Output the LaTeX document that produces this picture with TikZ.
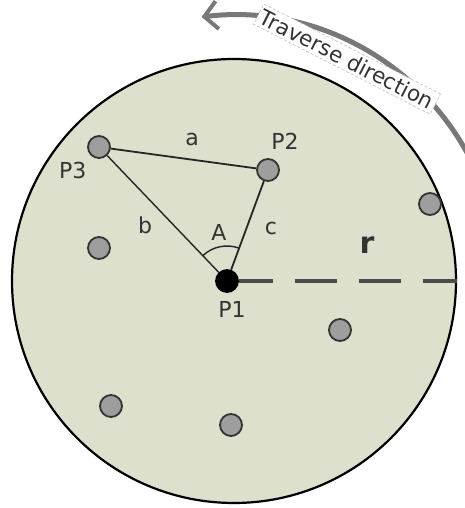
\documentclass[tikz,border=0pt]{standalone}
\usepackage{fontspec}
\setmainfont{DejaVu Sans}
\usetikzlibrary{positioning, arrows.meta, calc}

\definecolor{diskfill}{RGB}{221,224,204}
\definecolor{sitegray}{RGB}{158,158,158}
\definecolor{arrowgray}{RGB}{120,120,120}

\begin{document}
\begin{tikzpicture}[
  x=1pt, y=1pt,
  % Estilos del disco y de los puntos
  disk/.style={draw=black, line width=2.2pt, circle, fill=diskfill, minimum size=444pt, inner sep=0pt},
  site/.style={draw=black!80, line width=1.8pt, circle, fill=sitegray, minimum size=22pt, inner sep=0pt},
  centre/.style={site, draw=black, fill=black},
  % Estilos de textos
  lbl/.style={font=\fontsize{22}{22}\selectfont, text=black!80, inner sep=1pt},
  % Estilos de lineas
  side/.style={draw=black!85, line width=1.8pt},
  rline/.style={draw=black!70, line width=3.5pt, dash pattern=on 42pt off 22pt, dash phase=8pt},
  trav/.style={draw=arrowgray, line width=5pt, -{Straight Barb[length=13pt, width=28pt, line width=4pt]}},
  travlabel/.style={fill=white, draw=black!25, densely dashed, line width=0.6pt, font=\fontsize{21.5}{21.5}\selectfont, text=black!80, inner sep=3pt}
]
  \useasboundingbox (0,0) rectangle (465,508);

  % ==========================================
  % TRAVERSE DIRECTION
  % ==========================================
  \coordinate (o) at (234,227);
  \draw[trav] ($(o)+(25:266)$) arc[start angle=25, end angle=97, radius=266];
  \node[travlabel, rotate=-27] (travtxt) at ($(o)+(63:249)$) {Traverse direction};

  % ==========================================
  % DISK AND POINTS
  % ==========================================
  \node[disk] (disk) at (o) {};

  \node[centre] (p1) at (227,227) {};
  \node[site] (p2) at (268,338) {};
  \node[site] (p3) at (99,361) {};
  \node[site] (s4) at (430,304) {};
  \node[site] (s5) at (99,260) {};
  \node[site] (s6) at (340,178) {};
  \node[site] (s7) at (111,102) {};
  \node[site] (s8) at (231,83) {};

  % Triangle sides and radius
  \draw[side] (p3) -- (p2);
  \draw[side, line width=1.4pt] (p3) -- (p1);
  \draw[side] (p2) -- (p1);
  \draw[rline] (p1) -- (disk.east);

  % Angle at P1
  \draw[side, line width=1.4pt] ($(p1)+(69.6:35)$) arc[start angle=69.6, end angle=133.9, radius=35];

  % Labels
  \node[lbl, below=7pt of p1, xshift=5pt] (p1lbl) {P1};
  \node[lbl, above=7pt of p2, xshift=17pt] (p2lbl) {P2};
  \node[lbl, below left=6pt and 3pt of p3] (p3lbl) {P3};
  \node[lbl] (alab) at (192,368) {a};
  \node[lbl] (blab) at (145,283) {b};
  \node[lbl] (clab) at (271,280) {c};
  \node[lbl] (anglab) at (219,276) {A};
  \node[lbl, font=\fontsize{30}{30}\selectfont\bfseries] (rlab) at (367,263) {r};

\end{tikzpicture}
\end{document}
